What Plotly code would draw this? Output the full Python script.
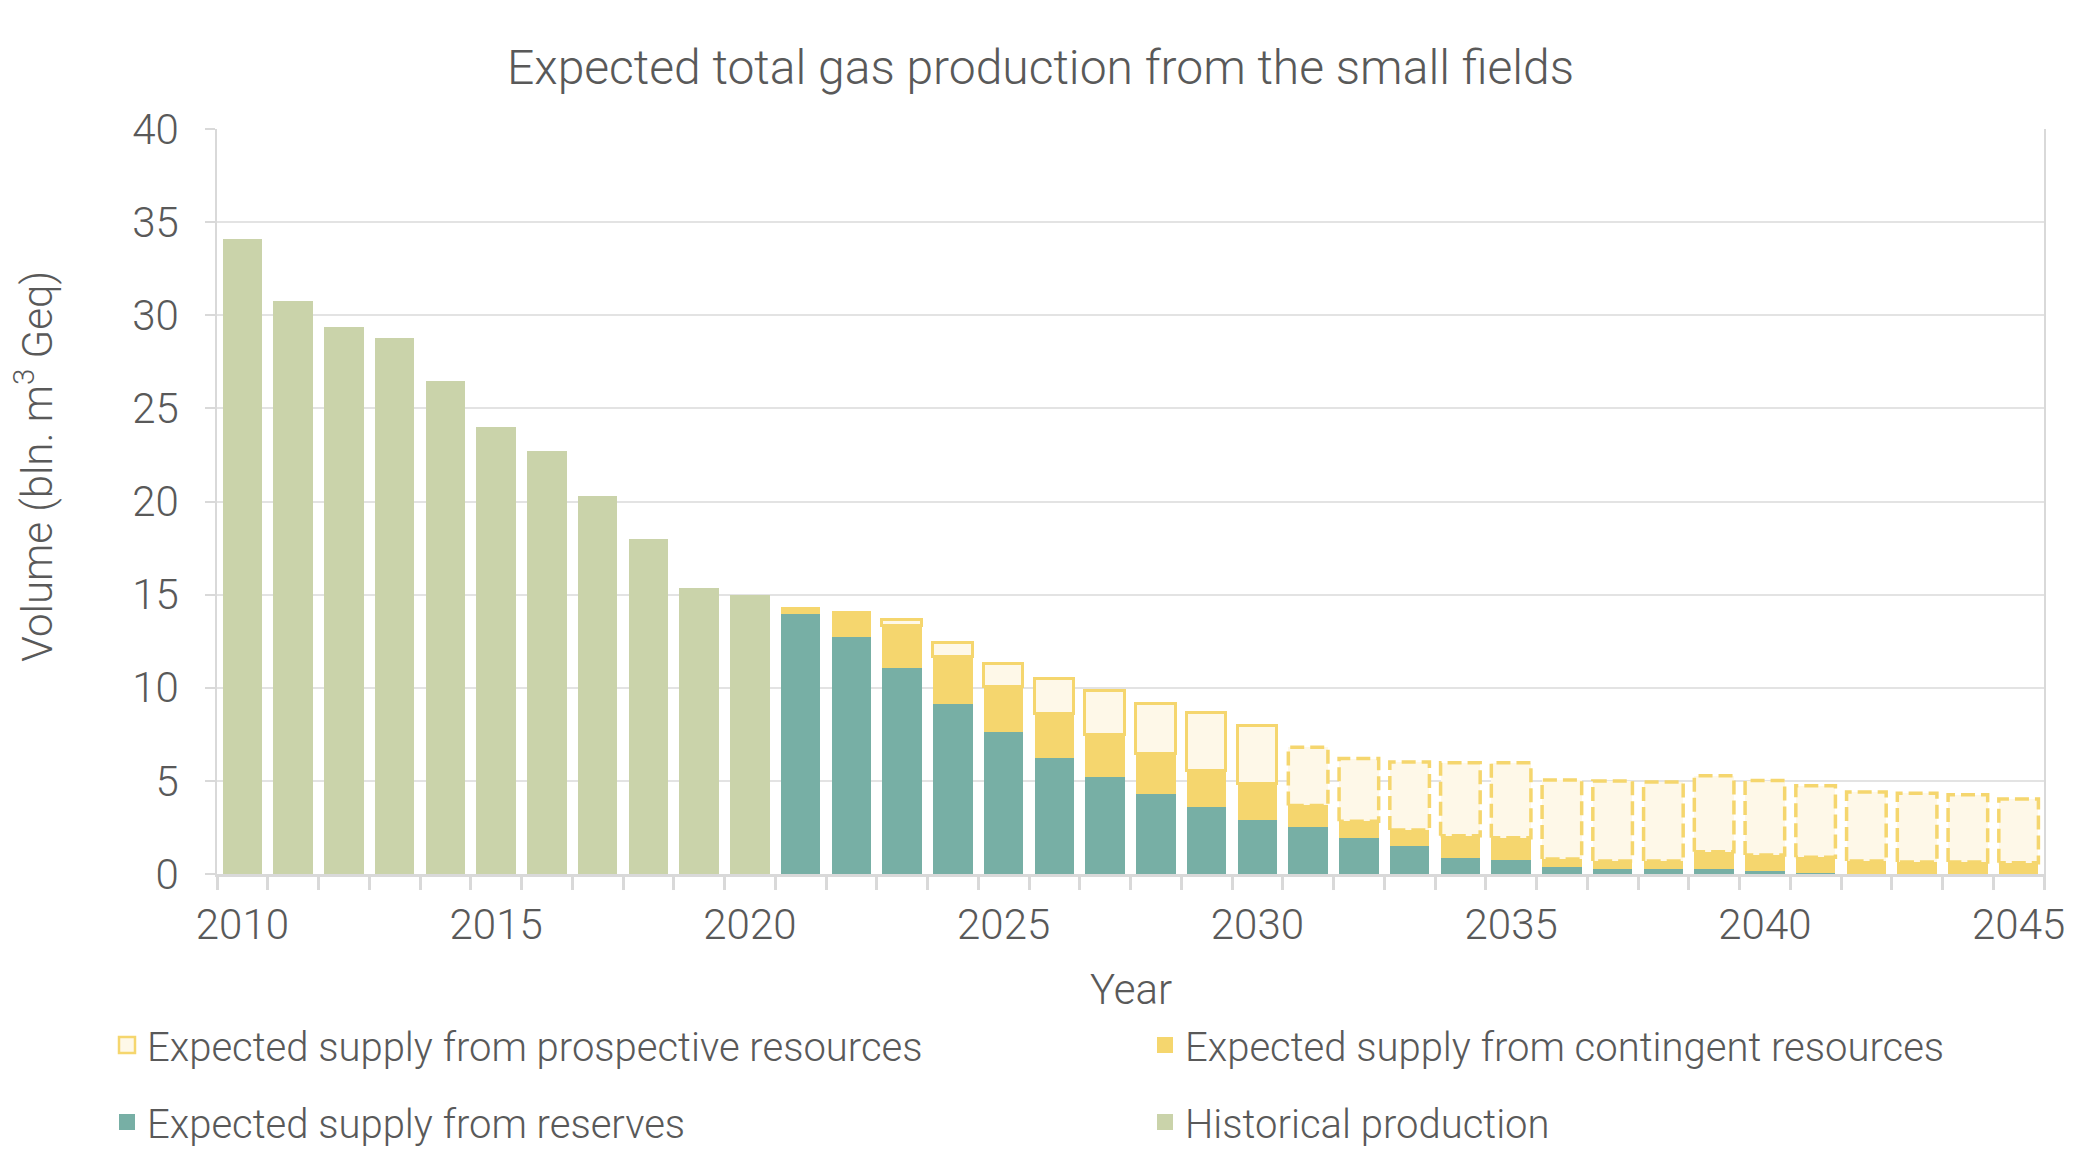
import plotly.graph_objects as go

# ---------------- data ----------------
hist_years = list(range(2010, 2021))
hist_values = [34.1, 30.75, 29.37, 28.78, 26.47, 24.0, 22.72, 20.29, 17.97, 15.38, 15.0]

fc_years = list(range(2021, 2046))
reserves = [13.95, 12.7, 11.05, 9.15, 7.65, 6.25, 5.2, 4.3, 3.62, 2.92,
            2.53, 1.93, 1.5, 0.87, 0.76, 0.38, 0.27, 0.27, 0.27, 0.16,
            0.05, 0.0, 0.0, 0.0, 0.0]
contingent = [0.30, 1.33, 2.25, 2.50, 2.40, 2.35, 2.25, 2.12, 1.93, 1.93,
              1.15, 0.90, 0.86, 1.18, 1.19, 0.42, 0.43, 0.43, 0.93, 0.86,
              0.85, 0.70, 0.65, 0.65, 0.60]
prospective = [0.0, 0.0, 0.35, 0.75, 1.20, 1.85, 2.35, 2.73, 3.10, 3.08,
               3.12, 3.37, 3.66, 3.92, 4.02, 4.25, 4.30, 4.24, 4.07, 4.00,
               3.84, 3.70, 3.69, 3.60, 3.43]
dashed_from_year = 2031

x_tick_labels = [2010, 2015, 2020, 2025, 2030, 2035, 2040, 2045]
y_ticks = [0, 5, 10, 15, 20, 25, 30, 35, 40]

# ---------------- style ----------------
C_HIST = "#CAD3AA"
C_RES = "#77AFA5"
C_CONT = "#F5D66E"
C_PROSP = "#FEF8E8"
C_TEXT = "#595959"
C_GRID = "#E3E3E3"
C_AXIS = "#D9D9D9"
BAR_W = 0.78
FONT = "Roboto"
W, H = 2065, 1153  # page body adds 8px margin on each side
ML, MR, MT, MB = 209, 29, 121, 287
PW, PH = W - ML - MR, H - MT - MB

fig = go.Figure()

fig.add_trace(go.Bar(
    x=hist_years, y=hist_values, name="Historical production",
    marker=dict(color=C_HIST, line=dict(width=0)), width=BAR_W, showlegend=False,
))
fig.add_trace(go.Bar(
    x=fc_years, y=reserves, name="Expected supply from reserves",
    marker=dict(color=C_RES, line=dict(width=0)), width=BAR_W, showlegend=False,
))
fig.add_trace(go.Bar(
    x=fc_years, y=contingent, name="Expected supply from contingent resources",
    marker=dict(color=C_CONT, line=dict(width=0)), width=BAR_W, showlegend=False,
))
fig.add_trace(go.Bar(
    x=fc_years, y=prospective, name="Expected supply from prospective resources",
    marker=dict(color=C_PROSP,
                line=dict(color=C_CONT,
                          width=[3 if yr < dashed_from_year else 0 for yr in fc_years])),
    width=BAR_W, showlegend=False,
))

# dashed outlines for the later prospective segments (derived from data)
half = BAR_W / 2
ox, oy = [], []
for yr, r, c, p in zip(fc_years, reserves, contingent, prospective):
    if yr >= dashed_from_year:
        base = r + c
        top = base + p
        ox += [yr - half, yr - half, yr + half, yr + half, yr - half, None]
        oy += [base, top, top, base, base, None]
fig.add_trace(go.Scatter(
    x=ox, y=oy, mode="lines", showlegend=False, hoverinfo="skip",
    line=dict(color=C_CONT, width=3.5, dash="14px,6px"),
))

# legend entries (square swatches, larger than the default bar icon)
legend_items = [
    ("Expected supply from prospective resources", C_PROSP, C_CONT, 2.5, "legend"),
    ("Expected supply from contingent resources", C_CONT, C_CONT, 0, "legend2"),
    ("Expected supply from reserves", C_RES, C_RES, 0, "legend3"),
    ("Historical production", C_HIST, C_HIST, 0, "legend4"),
]
for name, fill, edge, lw, lg in legend_items:
    fig.add_trace(go.Scatter(
        x=[None], y=[None], mode="markers", name=name, legend=lg,
        marker=dict(symbol="square", size=16, color=fill, line=dict(color=edge, width=lw)),
        hoverinfo="skip",
    ))


def legend_box(x, y):
    return dict(orientation="h", xref="container", yref="container",
                x=x, y=y, xanchor="left", yanchor="middle",
                font=dict(size=40, color=C_TEXT, family=FONT, weight=300),
                bgcolor="rgba(0,0,0,0)")


col1, col2 = 99 / W, 1137 / W
row1, row2 = 1 - 1037 / H, 1 - 1114 / H

fig.update_layout(
    width=W, height=H,
    barmode="stack", bargap=0,
    paper_bgcolor="white", plot_bgcolor="white",
    margin=dict(l=ML, r=MR, t=MT, b=MB),
    font=dict(family=FONT, color=C_TEXT, size=42, weight=300),
    title=dict(text="Expected total gas production from the small fields",
               x=0.5, xanchor="center", y=1 - 59 / H, yanchor="middle",
               xref="container", yref="container",
               font=dict(size=48, color=C_TEXT, family=FONT, weight=300)),
    legend=legend_box(col1, row1),
    legend2=legend_box(col2, row1),
    legend3=legend_box(col1, row2),
    legend4=legend_box(col2, row2),
    xaxis=dict(
        range=[2009.5, 2045.5], tickmode="array", tickvals=x_tick_labels,
        ticktext=[str(v) for v in x_tick_labels], ticks="", showgrid=False,
        showline=True, linecolor=C_AXIS, linewidth=3, zeroline=False,
        tickfont=dict(size=42), ticklabelstandoff=12,
        minor=dict(tickmode="linear", tick0=2009.5, dtick=1, ticks="outside",
                   ticklen=13, tickwidth=3, tickcolor=C_AXIS, showgrid=False),
        automargin=False,
    ),
    yaxis=dict(
        range=[0, 40], tickmode="array", tickvals=y_ticks,
        showgrid=True, gridcolor=C_GRID, gridwidth=1.5, zeroline=False,
        showline=True, mirror=True, linecolor=C_AXIS, linewidth=1.5,
        ticks="outside", ticklen=10, tickcolor=C_AXIS, tickwidth=1.5,
        tickfont=dict(size=42), ticklabelstandoff=18,
        automargin=False,
    ),
    annotations=[
        dict(text="Year", xref="paper", x=0.5, xanchor="center",
             yref="paper", y=(H - MB - 981) / PH, yanchor="middle",
             showarrow=False, font=dict(size=42, color=C_TEXT, family=FONT, weight=300)),
        dict(text="Volume (bln. m<sup>3</sup> Geq)", textangle=-90,
             xref="paper", x=(27 - ML) / PW, xanchor="center",
             yref="paper", y=(H - MB - 459) / PH, yanchor="middle",
             showarrow=False, font=dict(size=42, color=C_TEXT, family=FONT, weight=300)),
    ],
)

fig.write_html("out.html")
